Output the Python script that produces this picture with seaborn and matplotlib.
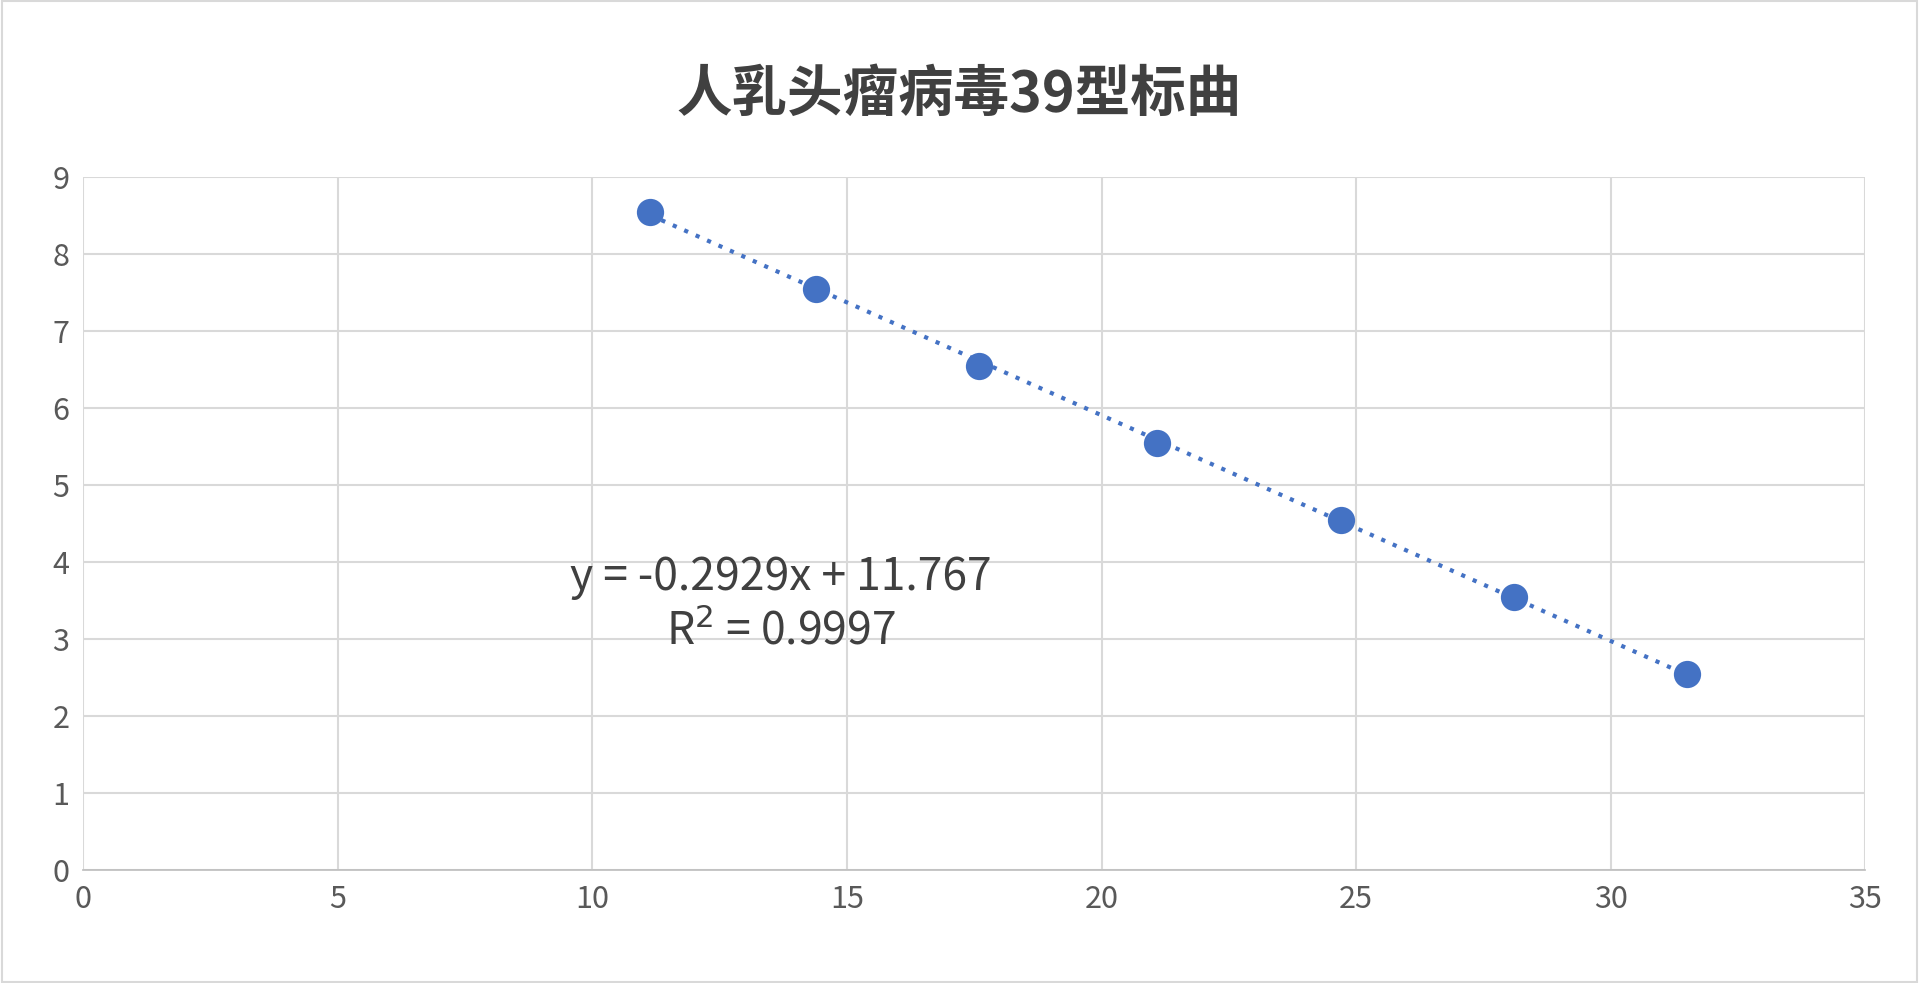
import matplotlib
matplotlib.use("Agg")
import matplotlib.pyplot as plt
import seaborn as sns
import numpy as np
import pandas as pd

x_vals = [11.13, 14.40, 17.60, 21.08, 24.71, 28.10, 31.49]
y_vals = [8.55, 7.55, 6.55, 5.55, 4.55, 3.55, 2.54]
title = "人乳头瘤病毒39型标曲"
x_ticks = [0, 5, 10, 15, 20, 25, 30, 35]
y_ticks = [0, 1, 2, 3, 4, 5, 6, 7, 8, 9]

sns.set_theme(style="whitegrid")
plt.rcParams['font.family'] = ['Noto Sans CJK SC', 'DejaVu Sans']

df = pd.DataFrame({"x": x_vals, "y": y_vals})
fig = plt.figure(figsize=(19.19, 9.83), dpi=100)
ax = fig.add_axes([0.0434, 0.115, 0.9286, 0.705])
blue = "#4472C4"
slope, inter = np.polyfit(df.x, df.y, 1)
xs = np.array([min(x_vals), max(x_vals)])
ax.plot(xs, slope * xs + inter, linestyle=(0, (1, 2)), color=blue, lw=3, zorder=2)
sns.scatterplot(data=df, x="x", y="y", ax=ax, s=330, color=blue, edgecolor=blue, zorder=3)
ax.set_xlim(0, 35); ax.set_ylim(0, 9)
ax.set_xticks(x_ticks); ax.set_yticks(y_ticks)
ax.set_xlabel(""); ax.set_ylabel("")
ax.grid(True, color="#D9D9D9", lw=1.5)
for s in ax.spines.values():
    s.set_visible(False)
ax.spines['bottom'].set_visible(True); ax.spines['bottom'].set_color("#BFBFBF")
ax.tick_params(labelsize=22, colors="#595959", length=0, pad=10)
ax.text(13.7, 3.45, "y = -0.2929x + 11.767\nR$^2$ = 0.9997", ha="center", va="center",
        fontsize=32, color="#404040", linespacing=1.25)
fig.text(0.5, 0.903, title, ha="center", va="center", fontsize=40, fontweight="bold", color="#404040")
fig.add_artist(plt.Rectangle((0.001, 0.001), 0.998, 0.998, transform=fig.transFigure,
                             fill=False, edgecolor="#D9D9D9", lw=1.5))
fig.savefig("out.png", dpi=100)
